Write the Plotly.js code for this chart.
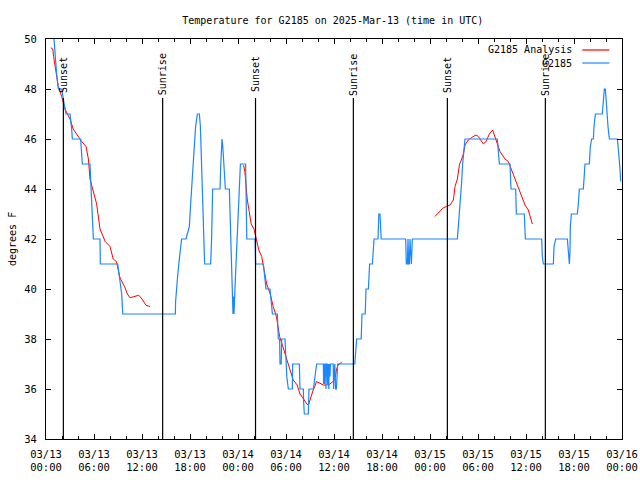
<!DOCTYPE html>
<html>
<head>
<meta charset="utf-8">
<script src="https://cdn.plot.ly/plotly-3.0.1.min.js"></script>
<style>html,body{margin:0;padding:0;background:#fff;}#chart{width:640px;height:480px;}</style>
</head>
<body>
<div id="chart"></div>
<script>
// Hours since 2025-03-13 00:00 UTC
const obsHours = [1.0,1.21,1.33,1.54,1.96,2.17,2.37,2.5,3.0,3.1,3.21,3.29,4.33,4.54,5.5,5.58,5.71,5.79,5.92,6.75,6.79,8.96,9.125,9.25,9.46,9.6,16.17,
16.2,16.3,16.45,16.6,16.75,16.95,17.5,17.92,18.1,18.3,18.5,18.7,18.92,19.17,19.3,19.4,19.55,19.68,19.83,20.58,20.7,20.83,21.75,21.85,22.0,22.1,22.25,22.42,22.92,23.05,23.17,23.3,23.375,23.45,23.5,23.67,23.92,24.1,24.3,24.95,25.1,26.13,26.2,27.17,
27.5,28.0,28.15,28.3,28.92,29.04,29.2,29.25,29.4,29.46,29.875,30.0,30.1,30.29,30.79,30.83,31.67,31.75,32.17,32.2,32.29,32.79,32.875,33.42,33.6,33.83,34.67,34.7,34.75,34.8,34.85,34.95,35.0,35.05,35.15,35.2,35.25,35.35,35.4,35.5,35.55,35.9,35.95,36.0,36.1,36.2,36.3,36.46,38.6,
38.83,39.4,39.5,39.9,40.0,40.3,40.45,40.8,41.0,41.5,41.6,41.75,41.9,44.96,45.04,45.17,45.25,45.33,45.42,45.5,45.58,45.67,45.79,51.42,51.54,51.67,51.79,51.96,52.08,52.21,52.375,56.42,56.54,56.67,58.0,58.125,58.71,58.79,59.79,59.92,61.96,62.04,62.17,63.42,63.5,63.71,65.17,65.29,65.375,65.42,65.5,65.54,65.67,66.42,66.54,66.67,67.17,67.25,67.375,67.92,68.04,68.21,68.42,68.5,68.67,69.54,69.67,69.79,69.92,70.08,70.25,70.42,71.42,71.54,71.67,71.75,71.83];
const obsTemps = [50,49.0,48.6,48.0,48.0,47.6,47.3,47.0,47.0,46.8,46.4,46.0,46.0,45.0,45.0,44.4,43.5,42.4,42.0,42.0,41.0,41.0,40.6,40.1,39.8,39.0,39.0,
39.5,40,40.5,41,41.5,42,42,42.5,43.5,44.5,45.5,46.5,47,47,46.5,45.5,44,42.5,41,41,42,44,44,45,46,45.7,45,44,44,42.5,41,39.7,39,39.7,39,40.4,42,43.5,45,45,42,42,41,41,
40,40,39.5,39,39,38,38,37,37,38,38,37,36.5,36,36,37,37,36,36,35.5,35,35,36,36,36.5,37,37,36.2,37,36.2,37,37,36,37,37,36.2,37,36,37,36.5,37,37,36,36.5,37,36,36,37,37,
38,38,39,39,40,40,41,41,42,42,43,43,42,42,41,41,42,41,41,42,41,41,42,42,42.5,43,43.8,44.3,45,45.5,46,46,45.5,45,45,44,44,43,43,42,42,41.3,41,41,41.7,42,42,41.5,41.3,41,41.5,42.5,43,43,43.4,44,44,44.5,45,45,45.7,46,46,46.5,47,47,47.5,48,48,47,46.5,46,46,45.6,45.2,44.8,44.3];

const anaHours = [0.6,0.85,0.95,1.2,1.54,1.96,2.375,2.67,3.0,3.4,3.8,4.46,5.0,5.3,5.5,5.92,6.33,6.75,7.4,8.0,8.4,8.8,9.25,9.875,10.17,10.5,11.0,11.6,12.0,12.5,13.0,
null,
24.7,24.85,25.0,25.15,25.4,25.65,26.0,26.3,26.6,26.96,27.25,27.58,28.0,28.4,28.8,29.2,29.6,30.0,30.5,30.9,31.4,31.75,32.2,32.6,32.8,33.1,33.4,33.6,33.8,34.25,34.67,35.1,35.5,36.1,36.3,36.5,36.96,
null,
48.6,48.9,49.25,49.67,50.08,50.5,50.92,51.125,51.42,51.67,51.96,52.17,52.375,52.79,53.2,53.75,54.04,54.4,54.67,55.0,55.42,55.83,56.1,56.33,56.75,57.375,57.79,58.2,58.625,59.04,59.46,59.875,60.29,60.5,60.79];
const anaTemps = [49.65,49.6,49.3,48.8,48.1,47.7,47.2,47.0,46.8,46.4,46.2,45.9,45.7,45.2,44.4,43.9,43.4,42.4,41.9,41.7,41.2,41.1,40.45,40.05,39.8,39.65,39.7,39.75,39.6,39.35,39.3,
null,
44.95,44.7,44.2,43.6,43.1,42.6,42.4,42.0,41.56,41.3,40.76,40.2,39.83,39.3,38.9,38.1,37.7,37.3,36.76,36.36,36.16,35.8,35.6,35.4,35.36,35.7,35.96,36.1,36.3,36.23,36.16,36.16,36.2,36.36,36.76,36.96,37.07,
null,
42.9,43.0,43.1,43.25,43.3,43.36,43.56,44.1,44.4,44.96,45.2,45.4,45.76,45.96,46.06,46.16,46.1,45.9,45.8,45.9,46.2,46.36,46.1,45.9,45.5,45.2,45.1,44.76,44.4,44.1,43.76,43.36,43.16,42.9,42.6];

const sunsetHours = [2.17, 26.19, 50.17];
const sunriseHours = [14.58, 38.42, 62.42];

const tickHours = [0,6,12,18,24,30,36,42,48,54,60,66,72];
const tickLabels = ["03/13<br>00:00","03/13<br>06:00","03/13<br>12:00","03/13<br>18:00",
  "03/14<br>00:00","03/14<br>06:00","03/14<br>12:00","03/14<br>18:00",
  "03/15<br>00:00","03/15<br>06:00","03/15<br>12:00","03/15<br>18:00","03/16<br>00:00"];
const yTicks = [34,36,38,40,42,44,46,48,50];

const FONT = "DejaVu Sans Mono, Liberation Mono, monospace";
const RED = "#ff0000", BLUE = "#1a86ff";

const traces = [
  {x: anaHours, y: anaTemps, type: "scatter", mode: "lines", name: "G2185 Analysis",
   line: {color: RED, width: 1}, connectgaps: false, hoverinfo: "skip"},
  {x: obsHours, y: obsTemps, type: "scatter", mode: "lines", name: "G2185",
   line: {color: BLUE, width: 1.2}, hoverinfo: "skip"}
];

const shapes = [];
const annotations = [];
function addEvent(h, label) {
  shapes.push({type: "line", xref: "x", yref: "paper", x0: h, x1: h, y0: 0, y1: 0.8525,
    line: {color: "#000", width: 1.2}});
  annotations.push({xref: "x", yref: "paper", x: h, y: 0.911, text: label, textangle: -90,
    showarrow: false, xanchor: "center", yanchor: "middle", font: {family: FONT, size: 10, color: "#000"}});
}
sunsetHours.forEach(h => addEvent(h, "Sunset"));
sunriseHours.forEach(h => addEvent(h, "Sunrise"));

// legend (text left, sample right, gnuplot style)
[[traces[0].name, RED, 0.9725], [traces[1].name, BLUE, 0.94]].forEach(([name, col, yy]) => {
  annotations.push({xref: "paper", yref: "paper", x: 0.916, y: yy, text: name, showarrow: false,
    xanchor: "right", yanchor: "middle", font: {family: FONT, size: 10, color: "#000"}});
  shapes.push({type: "line", xref: "paper", yref: "paper", x0: 0.931, x1: 0.978, y0: yy, y1: yy,
    line: {color: col, width: 1.2}});
});

annotations.push({xref: "paper", yref: "paper", x: -0.059, y: 0.5, text: "degrees F", textangle: -90,
  showarrow: false, xanchor: "center", yanchor: "middle", font: {family: FONT, size: 10, color: "#000"}});

const layout = {
  width: 640, height: 480,
  margin: {l: 46, r: 18, t: 39, b: 41},
  paper_bgcolor: "#fff", plot_bgcolor: "#fff",
  showlegend: false,
  font: {family: FONT, size: 10, color: "#000"},
  title: {text: "Temperature for G2185 on 2025-Mar-13 (time in UTC)", x: 0.52, xanchor: "center",
    y: 0.958, yanchor: "middle", font: {family: FONT, size: 10, color: "#000"}},
  xaxis: {range: [0, 72], tickmode: "array", tickvals: tickHours, ticktext: tickLabels,
    ticks: "inside", ticklen: 5, tickcolor: "#000", showline: true, linecolor: "#000", linewidth: 1,
    mirror: "ticks", showgrid: false, zeroline: false, automargin: false, ticklabelstandoff: 5,
    minor: {tickmode: "linear", tick0: 0, dtick: 2, ticks: "inside", ticklen: 3, tickcolor: "#000", showgrid: false},
    tickfont: {family: FONT, size: 10.5, color: "#000"}},
  yaxis: {range: [34, 50], tickmode: "array", tickvals: yTicks,
    ticks: "inside", ticklen: 5, tickcolor: "#000", showline: true, linecolor: "#000", linewidth: 1,
    mirror: "ticks", showgrid: false, zeroline: false, automargin: false, ticklabelstandoff: 6,
    tickfont: {family: FONT, size: 10.5, color: "#000"}},
  shapes: shapes,
  annotations: annotations
};

Plotly.newPlot("chart", traces, layout, {staticPlot: true, displayModeBar: false});
</script>
</body>
</html>
